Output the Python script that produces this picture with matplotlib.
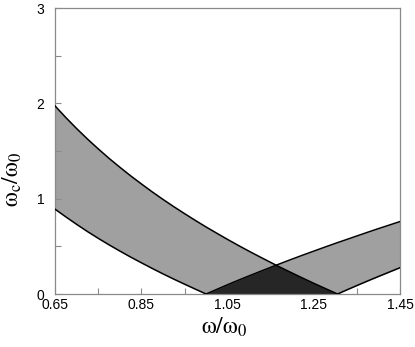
import matplotlib
matplotlib.use("Agg")
import matplotlib.pyplot as plt
import numpy as np

plt.rcParams["mathtext.fontset"] = "stix"

# omega / omega_0 sample positions
w = [0.65, 0.675, 0.70, 0.725, 0.75, 0.775, 0.80, 0.825, 0.85, 0.875, 0.90,
     0.925, 0.95, 0.975, 1.00, 1.025, 1.05, 1.075, 1.10, 1.125, 1.15, 1.1625,
     1.175, 1.20, 1.225, 1.25, 1.275, 1.30, 1.305, 1.325, 1.35, 1.375, 1.40,
     1.425, 1.45]

# decreasing band: upper and lower edges (0 where below the axis)
dec_upper = [1.970, 1.848, 1.733, 1.624, 1.521, 1.422, 1.329, 1.239, 1.154,
             1.071, 0.992, 0.916, 0.843, 0.772, 0.703, 0.637, 0.572, 0.509,
             0.448, 0.389, 0.331, 0.302, 0.274, 0.219, 0.165, 0.112, 0.061,
             0.010, 0.0, 0.0, 0.0, 0.0, 0.0, 0.0, 0.0]
dec_lower = [0.888, 0.807, 0.729, 0.654, 0.583, 0.515, 0.450, 0.387, 0.327,
             0.268, 0.211, 0.156, 0.103, 0.051, 0.0, 0.0, 0.0, 0.0, 0.0, 0.0,
             0.0, 0.0, 0.0, 0.0, 0.0, 0.0, 0.0, 0.0, 0.0, 0.0, 0.0, 0.0, 0.0,
             0.0, 0.0]
# increasing band: upper and lower edges
inc_upper = [0.0, 0.0, 0.0, 0.0, 0.0, 0.0, 0.0, 0.0, 0.0, 0.0, 0.0, 0.0, 0.0,
             0.0, 0.0, 0.049, 0.098, 0.145, 0.191, 0.236, 0.280, 0.302, 0.324,
             0.367, 0.409, 0.450, 0.491, 0.531, 0.539, 0.570, 0.609, 0.648,
             0.686, 0.723, 0.760]
inc_lower = [0.0] * 29 + [0.040, 0.089, 0.137, 0.184, 0.230, 0.276]

x_ticks = [0.65, 0.85, 1.05, 1.25, 1.45]
x_tick_labels = ["0.65", "0.85", "1.05", "1.25", "1.45"]
y_ticks = [0, 1, 2, 3]
y_tick_labels = ["0", "1", "2", "3"]

W = np.array(w)
du, dl = np.array(dec_upper), np.array(dec_lower)
iu, il = np.array(inc_upper), np.array(inc_lower)

fig = plt.figure(figsize=(4.15, 3.47), dpi=100)
ax = fig.add_axes([0.1333, 0.1527, 0.8306, 0.8242])

band_col = "#a0a0a0"
dark_col = "#262626"

dmask = W <= 1.305
ax.fill_between(W[dmask], dl[dmask], du[dmask], color=band_col, lw=0, zorder=1)
imask = W >= 1.0
ax.fill_between(W[imask], il[imask], iu[imask], color=band_col, lw=0, zorder=1)
# overlap of the two bands
ov = (W >= 1.0) & (W <= 1.305)
ax.fill_between(W[ov], 0, np.minimum(du[ov], iu[ov]), color=dark_col, lw=0, zorder=2)

# edges
m = W <= 1.305
ax.plot(W[m], du[m], color="black", lw=1.1, zorder=3)
m = W <= 1.0
ax.plot(W[m], dl[m], color="black", lw=1.1, zorder=3)
m = W >= 1.0
ax.plot(W[m], iu[m], color="black", lw=1.1, zorder=3)
m = W >= 1.305
ax.plot(W[m], il[m], color="black", lw=1.1, zorder=3)

ax.set_xlim(0.65, 1.45)
ax.set_ylim(0, 3)
ax.set_xticks(x_ticks)
ax.set_xticklabels(x_tick_labels)
ax.set_yticks(y_ticks)
ax.set_yticklabels(y_tick_labels)
ax.set_xticks([0.75, 0.95, 1.15, 1.35], minor=True)
ax.set_yticks([0.5, 1.5, 2.5], minor=True)

for s in ax.spines.values():
    s.set_color("#8a8a8a")
    s.set_linewidth(0.9)
ax.tick_params(which="both", direction="in", color="#8a8a8a", width=0.8,
               labelsize=10, top=False, right=False)
ax.tick_params(which="major", length=4)
ax.tick_params(which="minor", length=4)
ax.tick_params(axis="x", which="major", pad=3)
ax.tick_params(axis="y", which="major", pad=8)
for lab in ax.get_xticklabels() + ax.get_yticklabels():
    lab.set_fontfamily("Liberation Sans")

ax.set_xlabel(r"$\mathrm{\omega}/\mathrm{\omega}_0$", fontsize=17)
ax.set_ylabel(r"$\mathrm{\omega}_\mathrm{c}/\mathrm{\omega}_0$", fontsize=17)
ax.xaxis.set_label_coords(0.49, -0.075)
ax.yaxis.set_label_coords(-0.09, 0.40)

fig.savefig("out.png", dpi=100)
